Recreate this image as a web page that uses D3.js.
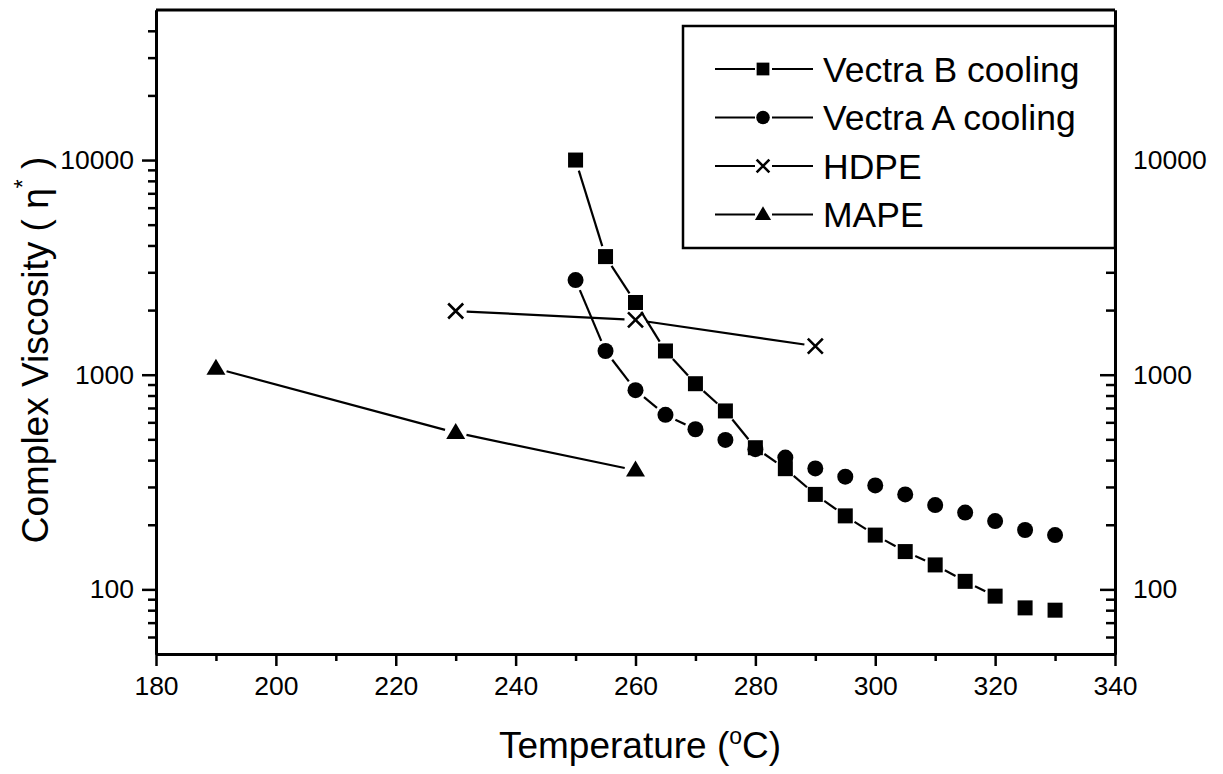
<!DOCTYPE html>
<html>
<head>
<meta charset="utf-8">
<script src="https://cdn.jsdelivr.net/npm/d3@7"></script>
<style>
	body { margin: 0; background: #fff; }
	svg { display: block; font-family: "Liberation Sans", Arial, sans-serif; }
</style>
</head>
<body>
<div id="chart"></div>
<script>
// Temperature (C) readings for each series
const vectraBTemps = [250, 255, 260, 265, 270, 275, 280, 285, 290, 295, 300, 305, 310, 315, 320, 325, 330];
const vectraBVisc = [10000, 3550, 2170, 1290, 908, 678, 457, 365, 277, 220, 179, 150, 130, 109, 93, 82, 80];
const vectraATemps = [250, 255, 260, 265, 270, 275, 280, 285, 290, 295, 300, 305, 310, 315, 320, 325, 330];
const vectraAVisc = [2760, 1290, 847, 650, 557, 497, 450, 411, 366, 335, 305, 277, 247, 228, 208, 189, 179];
const hdpeTemps = [230, 260, 290];
const hdpeVisc = [1980, 1800, 1360];
const mapeTemps = [190, 230, 260];
const mapeVisc = [1070, 537, 359];

const seriesNames = ["Vectra B cooling", "Vectra A cooling", "HDPE", "MAPE"];
const seriesSymbols = ["square", "circle", "cross", "triangle"];
const xTicks = [180, 200, 220, 240, 260, 280, 300, 320, 340];
const yTickLabels = [100, 1000, 10000];

const width = 1223;
const height = 774;
const margin = { top: 10, right: 108, bottom: 120, left: 156 };
const lineGap = 11;   // origin-style gap between symbols and connecting lines
const minSegment = 10.5;

const svg = d3.select("#chart").append("svg").attr("width", width).attr("height", height);

const x = d3.scaleLinear().domain([180, 340]).range([margin.left, width - margin.right]);
const y = d3.scaleLog().domain([50, 50000]).range([height - margin.bottom, margin.top]);

// minor ticks on the log axis
const yMinor = [];
[10, 100, 1000, 10000].forEach((dec) => {
	for (let k = 1; k <= 9; k++) {
		const v = dec * k;
		if (v > 50 && v < 50000 && !yTickLabels.includes(v)) yMinor.push(v);
	}
});
const xMinor = d3.range(190, 340, 20);

function styleAxis(g) {
	g.select(".domain").attr("stroke-width", 3);
	g.selectAll(".tick line").attr("stroke-width", 2.5);
	g.selectAll("text").attr("font-size", 26.5).attr("fill", "#000").attr("font-family", "'Liberation Sans', Arial, sans-serif");
}

// bottom
svg.append("g")
	.attr("transform", `translate(0,${height - margin.bottom})`)
	.call(d3.axisBottom(x).tickValues(xTicks).tickSize(12).tickPadding(10).tickSizeOuter(0).tickFormat(d3.format("d")))
	.call(styleAxis);
svg.append("g")
	.attr("transform", `translate(0,${height - margin.bottom})`)
	.call(d3.axisBottom(x).tickValues(xMinor).tickSize(7).tickFormat("").tickSizeOuter(0))
	.call(styleAxis);

// left
svg.append("g")
	.attr("transform", `translate(${margin.left},0)`)
	.call(d3.axisLeft(y).tickValues(yTickLabels).tickSize(14).tickPadding(8).tickSizeOuter(0).tickFormat(d3.format("d")))
	.call(styleAxis);
svg.append("g")
	.attr("transform", `translate(${margin.left},0)`)
	.call(d3.axisLeft(y).tickValues(yMinor).tickSize(8).tickFormat("").tickSizeOuter(0))
	.call(styleAxis);

// right (ticks pointing inward)
svg.append("g")
	.attr("transform", `translate(${width - margin.right},0)`)
	.call(d3.axisRight(y).tickValues(yTickLabels).tickSize(-15).tickPadding(18).tickSizeOuter(0).tickFormat(d3.format("d")))
	.call(styleAxis);
svg.append("g")
	.attr("transform", `translate(${width - margin.right},0)`)
	.call(d3.axisRight(y).tickValues(yMinor).tickSize(-9).tickFormat("").tickSizeOuter(0))
	.call(styleAxis);

// top line
svg.append("line")
	.attr("x1", margin.left).attr("x2", width - margin.right)
	.attr("y1", margin.top).attr("y2", margin.top)
	.attr("stroke", "#000").attr("stroke-width", 3);

// axis titles
const xTitle = svg.append("text")
	.attr("x", 640)
	.attr("y", 758)
	.attr("text-anchor", "middle")
	.attr("font-size", 37);
xTitle.append("tspan").text("Temperature (");
xTitle.append("tspan").attr("font-size", 23).attr("dy", -14).text("o");
xTitle.append("tspan").attr("dy", 14).text("C)");

const yTitle = svg.append("text")
	.attr("transform", `translate(48,350) rotate(-90)`)
	.attr("text-anchor", "middle")
	.attr("font-size", 37);
yTitle.append("tspan").text("Complex Viscosity  ( η");
yTitle.append("tspan").attr("font-size", 23).attr("dy", -17).text("*");
yTitle.append("tspan").attr("dy", 17).text(" )");

function drawSymbol(g, type, cx, cy, s) {
	if (type === "square") {
		g.append("rect").attr("x", cx - 7.5 * s).attr("y", cy - 7.5 * s)
			.attr("width", 15 * s).attr("height", 15 * s).attr("fill", "#000");
	} else if (type === "circle") {
		g.append("circle").attr("cx", cx).attr("cy", cy).attr("r", 8 * s).attr("fill", "#000");
	} else if (type === "triangle") {
		const h = 16 * s;
		const w = 19 * s;
		g.append("path")
			.attr("d", `M${cx},${cy - h * 0.6}L${cx + w / 2},${cy + h * 0.4}L${cx - w / 2},${cy + h * 0.4}Z`)
			.attr("fill", "#000");
	} else if (type === "cross") {
		const r = 7.5 * s;
		g.append("path")
			.attr("d", `M${cx - r},${cy - r}L${cx + r},${cy + r}M${cx - r},${cy + r}L${cx + r},${cy - r}`)
			.attr("stroke", "#000").attr("stroke-width", 2.6).attr("fill", "none");
	}
}

const allSeries = [
	{ temps: vectraBTemps, visc: vectraBVisc },
	{ temps: vectraATemps, visc: vectraAVisc },
	{ temps: hdpeTemps, visc: hdpeVisc },
	{ temps: mapeTemps, visc: mapeVisc },
];

const plot = svg.append("g");
allSeries.forEach((s, si) => {
	const pts = s.temps.map((t, i) => [x(t), y(s.visc[i])]);
	// connecting lines with gaps around the symbols
	for (let i = 0; i < pts.length - 1; i++) {
		const [x0, y0] = pts[i];
		const [x1, y1] = pts[i + 1];
		const len = Math.hypot(x1 - x0, y1 - y0);
		if (len - 2 * lineGap < minSegment) continue;
		const ux = (x1 - x0) / len;
		const uy = (y1 - y0) / len;
		plot.append("line")
			.attr("x1", x0 + ux * lineGap).attr("y1", y0 + uy * lineGap)
			.attr("x2", x1 - ux * lineGap).attr("y2", y1 - uy * lineGap)
			.attr("stroke", "#000").attr("stroke-width", 2.2);
	}
	pts.forEach((p) => drawSymbol(plot, seriesSymbols[si], p[0], p[1], 1));
});

// legend
const legend = svg.append("g");
legend.append("rect")
	.attr("x", 683).attr("y", 26)
	.attr("width", width - margin.right - 683).attr("height", 222)
	.attr("fill", "#fff").attr("stroke", "#000").attr("stroke-width", 2.5);
seriesNames.forEach((name, i) => {
	const ly = 69 + i * 48.5;
	legend.append("line").attr("x1", 715).attr("x2", 755).attr("y1", ly).attr("y2", ly)
		.attr("stroke", "#000").attr("stroke-width", 2);
	legend.append("line").attr("x1", 772).attr("x2", 813).attr("y1", ly).attr("y2", ly)
		.attr("stroke", "#000").attr("stroke-width", 2);
	drawSymbol(legend, seriesSymbols[i], 763, ly, 0.85);
	legend.append("text").attr("x", 823).attr("y", ly).attr("dy", "0.36em")
		.attr("font-size", 35.5).text(name);
});
</script>
</body>
</html>
